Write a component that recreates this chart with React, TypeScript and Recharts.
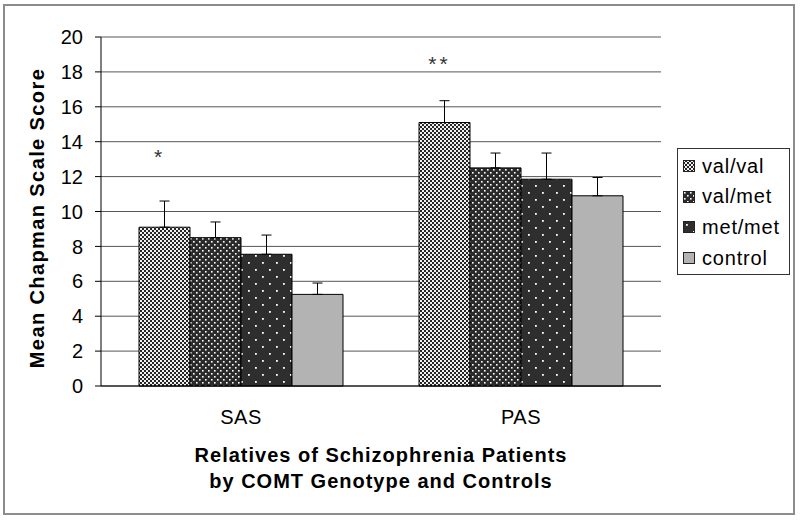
import React from 'react';
import {
  BarChart,
  Bar,
  XAxis,
  YAxis,
  CartesianGrid,
  ErrorBar,
  Legend,
  LabelList,
} from 'recharts';

// values
const groups = ['SAS', 'PAS'];
const valVal = [9.1, 15.1];
const valMet = [8.5, 12.5];
const metMet = [7.55, 11.85];
const control = [5.25, 10.9];
const valValErr = [1.5, 1.25];
const valMetErr = [0.9, 0.85];
const metMetErr = [1.1, 1.5];
const controlErr = [0.65, 1.05];
const sigMarks = ['*', '**'];
const sigLevels = [12.7, 18.05];
const yTicks = [0, 2, 4, 6, 8, 10, 12, 14, 16, 18, 20];

const FONT = 'Arial, "Liberation Sans", sans-serif';

const series = [
  { key: 'valVal', err: 'valValErr', name: 'val/val', fill: 'url(#pVV)' },
  { key: 'valMet', err: 'valMetErr', name: 'val/met', fill: 'url(#pVM)' },
  { key: 'metMet', err: 'metMetErr', name: 'met/met', fill: 'url(#pMM)' },
  { key: 'control', err: 'controlErr', name: 'control', fill: '#b3b3b3' },
];

const data = groups.map((g, i) => ({
  group: g,
  valVal: valVal[i],
  valMet: valMet[i],
  metMet: metMet[i],
  control: control[i],
  // one-sided (upward) error bars
  valValErr: [0, valValErr[i]],
  valMetErr: [0, valMetErr[i]],
  metMetErr: [0, metMetErr[i]],
  controlErr: [0, controlErr[i]],
}));

const SigLabel = (props: any) => {
  const { x, y, width, height, value, index } = props;
  const v = Number(value);
  const perUnit = height / v;
  const sy = y - (sigLevels[index] - v) * perUnit;
  return (
    <text
      x={x + width / 2 - 5}
      y={sy}
      textAnchor="middle"
      fontSize={21}
      fontFamily={FONT}
      fill="#333"
      style={{ letterSpacing: 3 }}
    >
      {sigMarks[index]}
    </text>
  );
};

const YTitle = () => (
  <text
    x={37}
    y={218}
    transform="rotate(-90 37 218)"
    textAnchor="middle"
    dominantBaseline="central"
    fontSize={20}
    fontWeight="bold"
    fontFamily={FONT}
    fill="#000"
    style={{ letterSpacing: 1.4 }}
  >
    Mean Chapman Scale Score
  </text>
);

const XTitle = (props: any) => {
  const vb = props.viewBox || { x: 101, y: 386, width: 560 };
  const cx = vb.x + vb.width / 2;
  return (
    <text
      textAnchor="middle"
      fontSize={20}
      fontWeight="bold"
      fontFamily={FONT}
      fill="#000"
      style={{ letterSpacing: 1 }}
    >
      <tspan x={cx} y={vb.y + 76}>Relatives of Schizophrenia Patients</tspan>
      <tspan x={cx} y={vb.y + 102}>by COMT Genotype and Controls</tspan>
    </text>
  );
};

const renderLegend = () => (
  <div
    style={{
      border: '1px solid #333',
      background: '#fff',
      boxSizing: 'border-box',
      width: 113,
      height: 127,
      paddingTop: 2,
      paddingLeft: 5,
      fontFamily: FONT,
      fontSize: 20,
      color: '#000',
    }}
  >
    {series.map((s) => (
      <div
        key={s.key}
        style={{ display: 'flex', alignItems: 'center', height: 30.6 }}
      >
        <svg width={12} height={12} style={{ marginRight: 7 }}>
          <rect x={0.5} y={0.5} width={11} height={11} fill={s.fill} stroke="#222" />
        </svg>
        <span style={{ letterSpacing: 0.8 }}>{s.name}</span>
      </div>
    ))}
  </div>
);

export default function App() {
  return (
    <div
      style={{
        position: 'absolute',
        left: 0,
        top: 0,
        width: 800,
        height: 521,
        background: '#fff',
      }}
    >
      <BarChart
        width={800}
        height={521}
        data={data}
        margin={{ top: 37, right: 139, left: 0, bottom: 0 }}
        barCategoryGap={38}
        barGap={0}
      >
        <defs>
          <pattern id="pVV" width={4} height={4} patternUnits="userSpaceOnUse">
            <rect width={4} height={4} fill="#262626" />
            <rect x={0} y={0} width={2} height={2} fill="#f0f0f0" />
            <rect x={2} y={2} width={2} height={2} fill="#f0f0f0" />
          </pattern>
          <pattern id="pVM" width={6} height={6} patternUnits="userSpaceOnUse">
            <rect width={6} height={6} fill="#2b2b2b" />
            <rect x={1} y={1} width={1.6} height={1.6} fill="#fff" />
            <rect x={4} y={4} width={1.6} height={1.6} fill="#fff" />
          </pattern>
          <pattern id="pMM" width={14} height={14} patternUnits="userSpaceOnUse">
            <rect width={14} height={14} fill="#2e2e2e" />
            <rect x={3} y={3} width={1.8} height={1.8} fill="#fff" />
            <rect x={10} y={10} width={1.8} height={1.8} fill="#fff" />
          </pattern>
        </defs>
        <CartesianGrid vertical={false} stroke="#575757" />
        <XAxis
          dataKey="group"
          height={135}
          tickLine={false}
          tickSize={0}
          tickMargin={24}
          axisLine={{ stroke: '#000' }}
          tick={{ fill: '#000', fontSize: 20, fontFamily: FONT, style: { letterSpacing: 0.5 } }}
          label={{ content: XTitle }}
        />
        <XAxis
          xAxisId="top"
          dataKey="group"
          orientation="top"
          height={0}
          tick={false}
          tickLine={false}
          axisLine={{ stroke: '#b5b5b5' }}
        />
        <YAxis
          width={101}
          domain={[0, 20]}
          ticks={yTicks}
          interval={0}
          tickSize={6}
          tickMargin={12}
          axisLine={{ stroke: '#000' }}
          tickLine={{ stroke: '#000' }}
          tick={{ fill: '#000', fontSize: 20, fontFamily: FONT }}
          label={{ content: YTitle }}
        />
        <YAxis
          yAxisId="right"
          orientation="right"
          width={0}
          tick={false}
          tickLine={false}
          axisLine={{ stroke: '#b5b5b5' }}
        />
        <Legend
          layout="vertical"
          align="center"
          verticalAlign="middle"
          content={renderLegend}
          wrapperStyle={{ left: 677, top: 148, width: 113, height: 127 }}
        />
        {series.map((s) => (
          <Bar
            key={s.key}
            dataKey={s.key}
            name={s.name}
            fill={s.fill}
            stroke="#000"
            strokeWidth={1}
            isAnimationActive={false}
          >
            <ErrorBar dataKey={s.err} width={5} stroke="#000" strokeWidth={1} direction="y" />
            {s.key === 'valVal' ? <LabelList dataKey={s.key} content={SigLabel} /> : null}
          </Bar>
        ))}
      </BarChart>
      <div
        style={{
          position: 'absolute',
          left: 3,
          top: 4,
          width: 792,
          height: 511,
          border: '2px solid #8c8c8c',
          boxSizing: 'border-box',
          pointerEvents: 'none',
        }}
      />
    </div>
  );
}
